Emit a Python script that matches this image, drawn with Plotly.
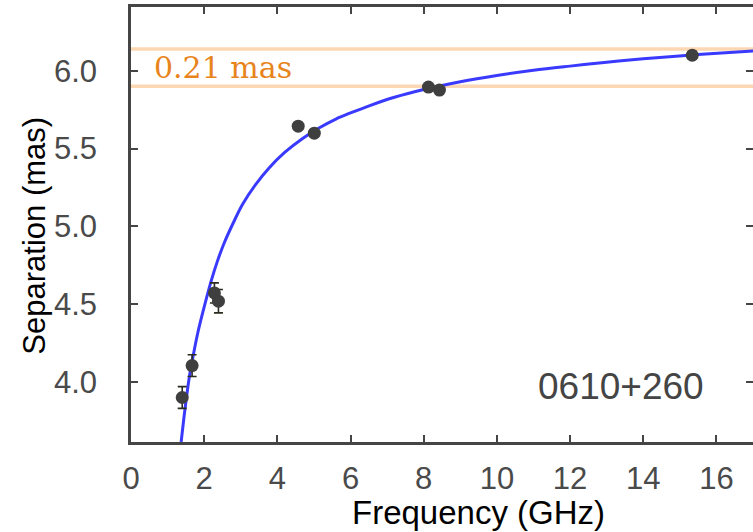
import plotly.graph_objects as go

# Measured data points
freq = [1.40, 1.67, 2.28, 2.39, 4.57, 5.01, 8.13, 8.43, 15.34]
sep = [3.90, 4.105, 4.572, 4.519, 5.644, 5.599, 5.895, 5.876, 6.10]
sep_err = [0.07, 0.07, 0.065, 0.075, 0.02, 0.02, 0.015, 0.015, 0.025]

# Fitted curve
fit_freq = [1.37, 1.44, 1.505, 1.59, 1.686, 1.82, 1.96, 2.19, 2.36, 2.55, 2.8, 3.05, 3.4,
            3.78, 4.2, 4.69, 5.15, 5.60, 6.0, 6.51, 7.2, 8.0, 9.0, 10.0, 11.0, 12.0, 13.0,
            14.0, 15.5, 17.0]
fit_sep = [3.614, 3.757, 3.88, 4.026, 4.152, 4.310, 4.445, 4.648, 4.775, 4.895, 5.025, 5.142,
           5.267, 5.377, 5.475, 5.565, 5.634, 5.690, 5.729, 5.775, 5.830, 5.880, 5.930, 5.970,
           6.003, 6.030, 6.055, 6.077, 6.104, 6.127]

# Band lines
band_levels = [6.14, 5.90]
band_label = "0.21 mas"
source_name = "0610+260"

x_ticks = [0, 2, 4, 6, 8, 10, 12, 14, 16]
y_ticks = [4.0, 4.5, 5.0, 5.5, 6.0]
x_range = [0, 17]
y_range = [3.614, 6.41]

axis_col = "#454545"
tick_font = dict(family="Liberation Sans, Arial, sans-serif", size=31, color="#4a4a4a")

fig = go.Figure()

fig.add_trace(go.Scatter(
    x=fit_freq, y=fit_sep, mode="lines",
    line=dict(color="#3a3aff", width=3, shape="spline", smoothing=1.0),
    hoverinfo="skip", showlegend=False,
))

fig.add_trace(go.Scatter(
    x=freq, y=sep, mode="markers",
    marker=dict(color="#3f3f3f", size=13),
    error_y=dict(type="data", array=sep_err, color="#2b2b20", thickness=1.6, width=4.5),
    showlegend=False,
))

# empty trace to activate right-side tick axis
fig.add_trace(go.Scatter(x=[], y=[], yaxis="y2", showlegend=False, hoverinfo="skip"))

for lv in band_levels:
    fig.add_shape(type="line", xref="paper", x0=0, x1=1, yref="y", y0=lv, y1=lv,
                  line=dict(color="#fbd7b3", width=3.5), layer="below")

fig.add_annotation(x=0.57, y=6.024, xref="x", yref="y", text=band_label, showarrow=False,
                   xanchor="left", yanchor="middle",
                   font=dict(family="DejaVu Serif, serif", size=30, color="#e8841c"))

fig.add_annotation(x=11.08, y=3.97, xref="x", yref="y", text=source_name, showarrow=False,
                   xanchor="left", yanchor="middle",
                   font=dict(family="Liberation Sans, Arial, sans-serif", size=37, color="#444444"))

# Axis titles
fig.add_annotation(x=-0.1555, y=0.475, xref="paper", yref="paper", text="Separation (mas)",
                   showarrow=False, textangle=-90, xanchor="center", yanchor="middle",
                   font=dict(family="Liberation Sans, Arial, sans-serif", size=31, color="#000000"))
fig.add_annotation(x=0.5583, y=-0.162, xref="paper", yref="paper", text="Frequency (GHz)",
                   showarrow=False, xanchor="center", yanchor="middle",
                   font=dict(family="Liberation Sans, Arial, sans-serif", size=33, color="#000000"))

fig.update_layout(
    width=753, height=532,
    margin=dict(l=131, r=0, t=7, b=90, autoexpand=False),
    paper_bgcolor="white", plot_bgcolor="white",
    xaxis=dict(range=x_range, tickvals=x_ticks, ticks="inside", ticklen=7, tickwidth=2,
               tickcolor=axis_col, showline=True, linecolor=axis_col, linewidth=2.5,
               mirror="ticks", showgrid=False, zeroline=False, tickfont=tick_font,
               ticklabelstandoff=7, automargin=False),
    yaxis=dict(range=y_range, tickvals=y_ticks, tickformat=".1f", ticks="inside", ticklen=7,
               tickwidth=2, tickcolor=axis_col, showline=True, linecolor=axis_col, linewidth=2.5,
               mirror=False, showgrid=False, zeroline=False, tickfont=tick_font,
               ticklabelstandoff=25, automargin=False),
    yaxis2=dict(range=y_range, tickvals=y_ticks, overlaying="y", side="right", ticks="inside",
                ticklen=7, tickwidth=2, tickcolor=axis_col, showline=False,
                showticklabels=False, showgrid=False, zeroline=False, automargin=False),
)

fig.write_html("out.html", config={"displayModeBar": False},
               post_script="document.body.style.margin='0';document.body.style.overflow='hidden';")
